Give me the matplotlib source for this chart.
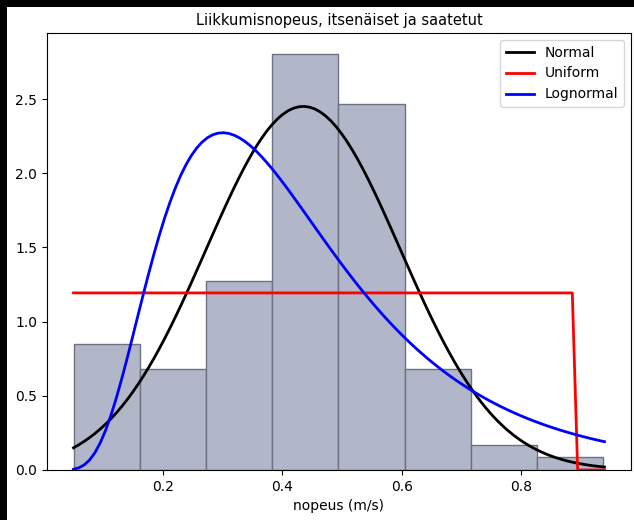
import numpy as np
import matplotlib
matplotlib.use("Agg")
import matplotlib.pyplot as plt
from matplotlib.patches import Rectangle

# histogram of measured speeds (counts per bin)
bin_edges = [0.05, 0.161, 0.272, 0.383, 0.494, 0.605, 0.716, 0.827, 0.938]
counts = [10, 8, 15, 33, 29, 8, 2, 1]

# fitted distribution parameters
norm_mu, norm_sigma = 0.435, 0.1628
unif_a, unif_b = 0.05, 0.888
logn_mu, logn_s = -0.941, 0.513

x = np.linspace(0.05, 0.94, 100)
pdf_norm = np.exp(-0.5 * ((x - norm_mu) / norm_sigma) ** 2) / (norm_sigma * np.sqrt(2 * np.pi))
pdf_unif = np.where((x >= unif_a) & (x <= unif_b), 1.0 / (unif_b - unif_a), 0.0)
pdf_logn = np.exp(-(np.log(x) - logn_mu) ** 2 / (2 * logn_s ** 2)) / (x * logn_s * np.sqrt(2 * np.pi))

fig = plt.figure(figsize=(6.34, 5.2), dpi=100)
ax = fig.add_axes([0.0741, 0.0962, 0.9212, 0.8403])

ax.hist(bin_edges[:-1], bins=bin_edges, weights=counts, density=True,
        facecolor='#b1b6c9', edgecolor='#6e7180', linewidth=1)
ax.plot(x, pdf_norm, color='black', lw=2, label='Normal')
ax.plot(x, pdf_unif, color='red', lw=2, label='Uniform')
ax.plot(x, pdf_logn, color='blue', lw=2, label='Lognormal')

ax.set_title('Liikkumisnopeus, itsenäiset ja saatetut', fontsize=10.5)
ax.set_xlabel('nopeus (m/s)')
ax.legend(loc='upper right')

# dark frame along the top and left edges
fig.patches.append(Rectangle((0, 0), 7 / 634, 1, transform=fig.transFigure,
                             facecolor='black', edgecolor='none', zorder=10))
fig.patches.append(Rectangle((0, 1 - 7 / 520), 1, 7 / 520, transform=fig.transFigure,
                             facecolor='black', edgecolor='none', zorder=10))

fig.savefig('out.png', dpi=100)
